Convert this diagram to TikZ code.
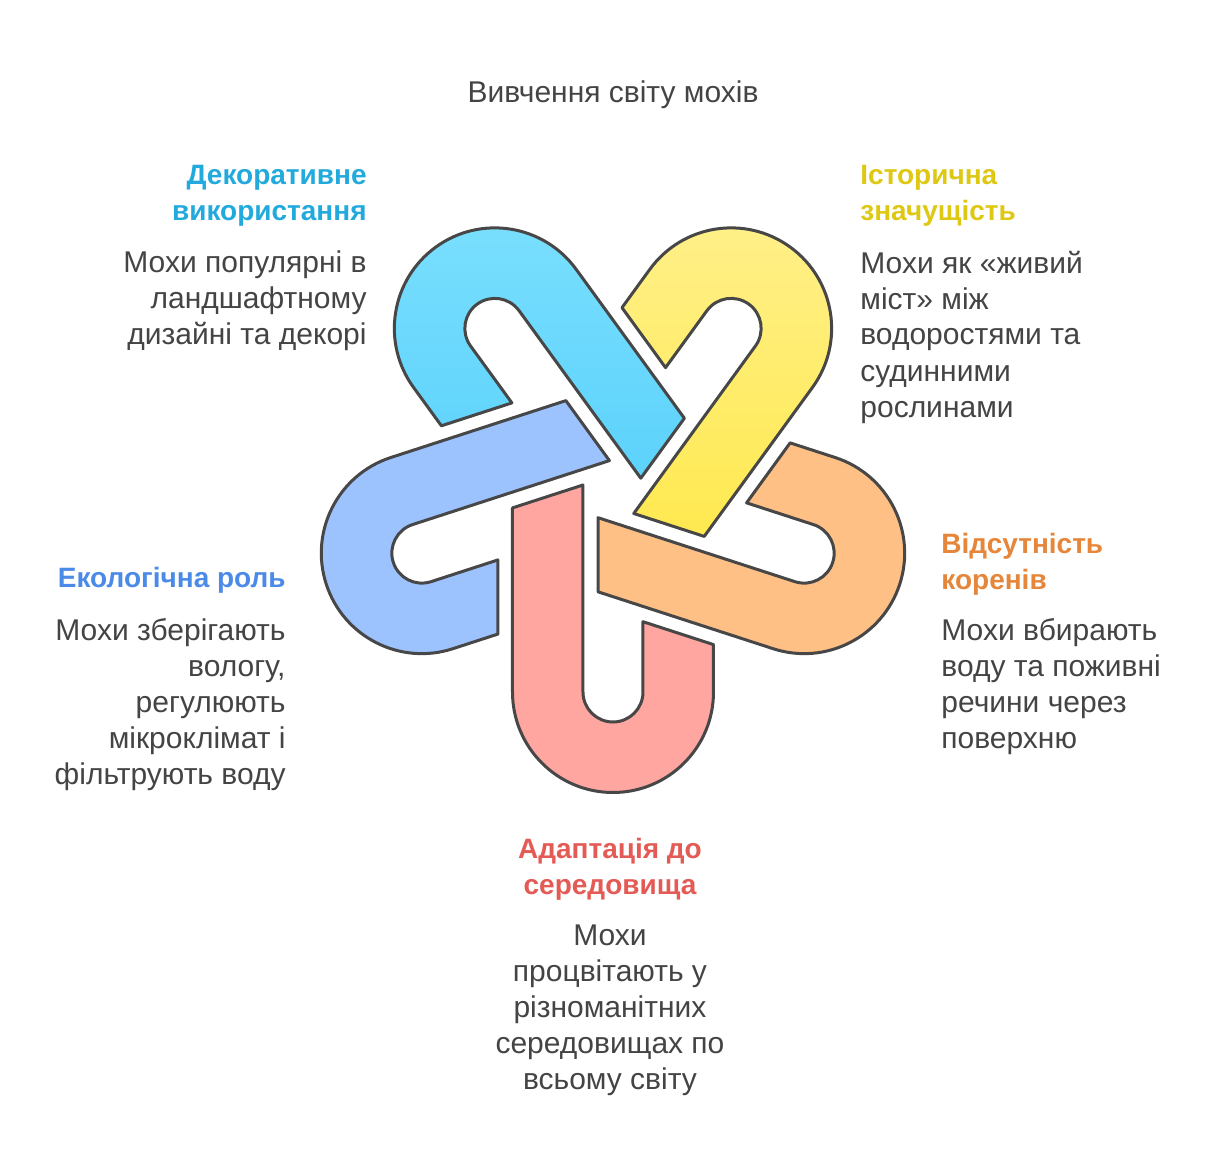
\documentclass[tikz,border=0pt]{standalone}
\usepackage{fontspec}
\setmainfont{Liberation Sans}
\usetikzlibrary{positioning}

\definecolor{linegray}{HTML}{474747}
\definecolor{txtgray}{HTML}{444444}
\definecolor{redfill}{HTML}{FFA6A1}
\definecolor{orangefill}{HTML}{FFC085}
\definecolor{yellowtop}{HTML}{FFF08A}
\definecolor{yellowbot}{HTML}{FFE950}
\definecolor{cyantop}{HTML}{7ADFFE}
\definecolor{cyanbot}{HTML}{5CD2FB}
\definecolor{bluefill}{HTML}{9DC3FF}
\definecolor{redhead}{HTML}{E45A55}
\definecolor{orangehead}{HTML}{E5863A}
\definecolor{yellowhead}{HTML}{DEC814}
\definecolor{cyanhead}{HTML}{22AADC}
\definecolor{bluehead}{HTML}{4C8AE8}

% one hook, opening upwards, centre of the star at the origin
\newcommand{\hookpath}{(-100.5,-16.9) -- (-30,6) -- (-30,-201)
  arc[start angle=180,end angle=360,radius=30] -- (30,-130.7) -- (100.5,-153.6)
  -- (100.5,-201) arc[start angle=0,end angle=-180,radius=100.5] -- cycle}

\begin{document}
\begin{tikzpicture}[x=0.5pt,y=0.5pt,
    hook/.style={draw=linegray,line width=1.5pt,line join=round},
    heading/.style={font=\fontsize{14}{18}\selectfont\bfseries,inner sep=0pt},
    body/.style={font=\fontsize{15}{18}\selectfont,text=txtgray,inner sep=0pt}]
    \useasboundingbox (-613,-682) rectangle (614,491);

    % the five hooks
    \draw[hook,fill=redfill] \hookpath;
    \draw[hook,fill=orangefill,rotate=72] \hookpath;
    \draw[hook,rotate=144,top color=yellowtop,bottom color=yellowbot] \hookpath;
    \draw[hook,rotate=216,top color=cyantop,bottom color=cyanbot] \hookpath;
    \draw[hook,fill=bluefill,rotate=288] \hookpath;

    % texts, each placed at the baseline of its last line
    \node[body,anchor=base] (title) at (0,388) {Вивчення світу мохів};

    \node[heading,text=cyanhead,anchor=base east,align=right] (decoH) at (-246,270)
        {Декоративне\\використання};
    \node[body,anchor=base east,align=right] (decoB) at (-246,146)
        {Мохи популярні в\\ландшафтному\\дизайні та декорі};

    \node[heading,text=yellowhead,anchor=base west,align=left] (histH) at (247,270)
        {Історична\\значущість};
    \node[body,anchor=base west,align=left] (histB) at (247,74)
        {Мохи як «живий\\міст» між\\водоростями та\\судинними\\рослинами};

    \node[heading,text=orangehead,anchor=base west,align=left] (rootH) at (328,-98)
        {Відсутність\\коренів};
    \node[body,anchor=base west,align=left] (rootB) at (328,-257)
        {Мохи вбирають\\воду та поживні\\речини через\\поверхню};

    \node[heading,text=bluehead,anchor=base east,align=right] (ecoH) at (-327,-96)
        {Екологічна роль};
    \node[body,anchor=base east,align=right] (ecoB) at (-327,-293)
        {Мохи зберігають\\вологу,\\регулюють\\мікроклімат і\\фільтрують воду};

    \node[heading,text=redhead,anchor=base,align=center] (adaptH) at (-3,-403)
        {Адаптація до\\середовища};
    \node[body,anchor=base,align=center] (adaptB) at (-3,-598)
        {Мохи\\процвітають у\\різноманітних\\середовищах по\\всьому світу};
\end{tikzpicture}
\end{document}
